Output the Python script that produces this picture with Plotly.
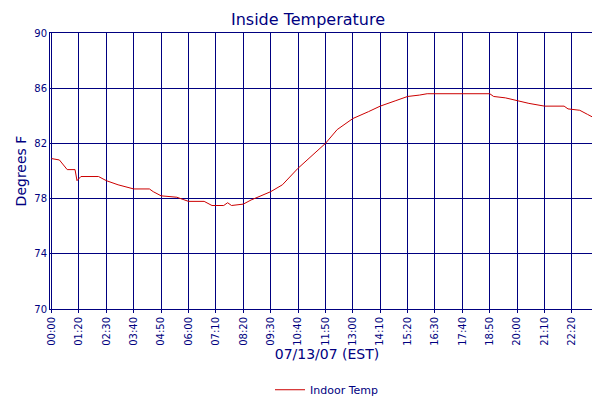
import plotly.graph_objects as go

times = ["00:10","00:30","00:50","01:10","01:15","01:25","02:10","02:30","03:00","03:40","04:20","04:30","04:50","05:30","06:00","06:40","07:00","07:30","07:40","07:50","08:20","08:40","09:30","10:00","10:40","11:20","11:50","12:20","13:00","13:40","14:10","14:50","15:20","15:50","16:10","18:50","19:00","19:30","20:00","20:30","21:10","22:00","22:10","22:40","23:00","23:40"]
temps = [80.9,80.8,80.1,80.1,79.3,79.6,79.6,79.3,79.0,78.7,78.7,78.5,78.2,78.1,77.8,77.8,77.5,77.5,77.7,77.5,77.6,77.9,78.5,79.0,80.2,81.2,82.0,83.0,83.8,84.3,84.7,85.1,85.4,85.5,85.6,85.6,85.4,85.3,85.1,84.9,84.7,84.7,84.5,84.4,84.1,83.5]
tick_labels = ["00:00","01:20","02:30","03:40","04:50","06:00","07:10","08:20","09:30","10:40","11:50","13:00","14:10","15:20","16:30","17:40","18:50","20:00","21:10","22:20","23:30","23:40"]
tick_minutes = [10,80,150,220,290,360,430,500,570,640,710,780,850,920,990,1060,1130,1200,1270,1340,1410,1420]
y_ticks = [70,74,78,82,86,90]

def to_min(t):
    h, m = t.split(":")
    return int(h)*60 + int(m)

x = [to_min(t) for t in times]
navy = "#000080"
fig = go.Figure(go.Scatter(x=x, y=temps, mode="lines", name="Indoor Temp",
                           line=dict(color="#cc0000", width=1)))
fig.update_layout(
    width=600, height=400, plot_bgcolor="white", paper_bgcolor="white",
    margin=dict(l=42, r=4, t=25, b=82),
    font=dict(family="DejaVu Sans", color=navy, size=11),
    title=dict(text="Inside Temperature", x=0.5, xanchor="center", y=0.985, yanchor="top",
               font=dict(size=16, color=navy)),
    showlegend=True,
    legend=dict(orientation="h", x=0.5, xanchor="center", y=-0.24, yanchor="top",
                font=dict(size=11, color=navy)),
)
fig.update_xaxes(range=[6,1422], tickvals=tick_minutes, ticktext=tick_labels, tickangle=-90,
                 automargin=False,
                 showgrid=True, gridcolor=navy, gridwidth=1, showline=True, linecolor=navy,
                 mirror=True, zeroline=False, ticks="outside", ticklen=3, tickcolor=navy,
                 tickfont=dict(size=10, color=navy),
                 title=dict(text="07/13/07 (EST)", font=dict(size=14, color=navy), standoff=4))
fig.update_yaxes(range=[70,90], tickvals=y_ticks, showgrid=True, gridcolor=navy, gridwidth=1,
                 automargin=False,
                 showline=True, linecolor=navy, mirror=True, zeroline=False,
                 tickfont=dict(size=10, color=navy),
                 title=dict(text="Degrees F", font=dict(size=14, color=navy), standoff=4))
fig.write_html("out.html")
